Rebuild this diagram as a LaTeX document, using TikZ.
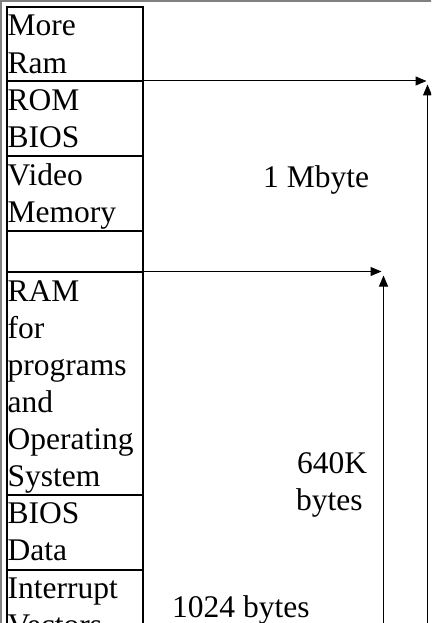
\documentclass[tikz,border=0pt]{standalone}
\usepackage{fontspec}
\setmainfont{Liberation Serif}
\usetikzlibrary{arrows.meta,calc}
\begin{document}
\begin{tikzpicture}[x=1pt,y=-1pt,
  cell/.style={draw, line width=1.2pt, rectangle, minimum width=136pt, anchor=north west, inner sep=0pt, outer sep=0pt},
  lbl/.style={anchor=base west, inner sep=0pt, font=\fontsize{31.5}{37}\selectfont},
  arr/.style={line width=1pt, -{Triangle[length=11pt,width=9pt]}},
  sep/.style={line width=2.4pt},
  frame/.style={draw=gray, line width=2pt}]
\useasboundingbox (0,0) rectangle (431,623);
\clip (0,0) rectangle (431,623);
\draw[frame] (1,630) -- (1,1) -- (432,1);
% cells
\node[cell, minimum height=74pt] (c1) at (7,7) {};
\node[cell, minimum height=75pt] (c2) at (7,81) {};
\node[cell, minimum height=75pt] (c3) at (7,156) {};
\node[cell, minimum height=41pt] (c4) at (7,231) {};
\node[cell, minimum height=223pt] (c5) at (7,272) {};
\node[cell, minimum height=75pt] (c6) at (7,495) {};
\node[cell, minimum height=75pt] (c7) at (7,570) {};
\draw[sep] (c1.south west) -- (c1.south east);
\draw[sep] (c3.south west) -- (c3.south east);
\draw[sep] (c5.south west) -- (c5.south east);
% labels
\node[lbl] (l1a) at (7.5,36) {More};
\node[lbl] (l1b) at (7.5,73.3) {Ram};
\node[lbl] (l2a) at (7.5,110.5) {ROM};
\node[lbl] (l2b) at (7.5,147.8) {BIOS};
\node[lbl] (l3a) at (7.5,185) {Video};
\node[lbl] (l3b) at (7.5,222.3) {Memory};
\node[lbl] (l5a) at (7.5,301) {RAM};
\node[lbl] (l5b) at (7.5,338) {for};
\node[lbl] (l5c) at (7.5,375) {programs};
\node[lbl] (l5d) at (7.5,412) {and};
\node[lbl] (l5e) at (7.5,449) {Operating};
\node[lbl] (l5f) at (7.5,486) {System};
\node[lbl] (l6a) at (7.5,523.5) {BIOS};
\node[lbl] (l6b) at (7.5,560.8) {Data};
\node[lbl] (l7a) at (7.5,598.5) {Interrupt};
\node[lbl] (l7b) at (7.5,635.8) {Vectors};
% size labels
\node[lbl] (mb) at (263,187) {1 Mbyte};
\node[lbl] (k1) at (297,473) {640K};
\node[lbl] (k2) at (296,510) {bytes};
\node[lbl] (kb) at (172,617) {1024 bytes};
% arrows
\coordinate (h1) at (426.5,81);
\coordinate (v1s) at (427.5,640);
\coordinate (v1e) at (427.5,84.5);
\coordinate (h2s) at (143,271.5);
\coordinate (h2) at (381.5,271.5);
\coordinate (v2s) at (383.5,640);
\coordinate (v2e) at (383.5,275.5);
\draw[arr] (c1.south east) -- (h1);
\draw[arr] (v1s) -- (v1e);
\draw[arr] (h2s) -- (h2);
\draw[arr] (v2s) -- (v2e);
\end{tikzpicture}
\end{document}
